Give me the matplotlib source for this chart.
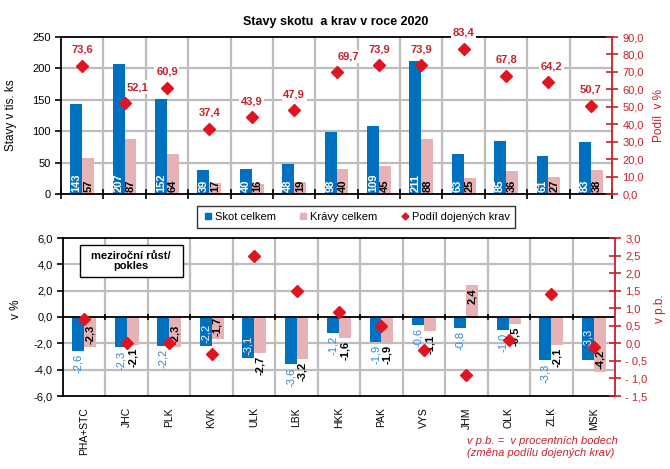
import numpy as np
import matplotlib
matplotlib.use("Agg")
import matplotlib.pyplot as plt
from matplotlib.lines import Line2D
from matplotlib.patches import Rectangle

plt.rcParams['font.family'] = ['Liberation Sans', 'DejaVu Sans']

# data
regions = ['PHA+STC', 'JHC', 'PLK', 'KVK', 'ULK', 'LBK', 'HKK', 'PAK', 'VYS', 'JHM', 'OLK', 'ZLK', 'MSK']
skot = [143, 207, 152, 39, 40, 48, 98, 109, 211, 63, 85, 61, 83]
kravy = [57, 87, 64, 17, 16, 19, 40, 45, 88, 25, 36, 27, 38]
podil = [73.6, 52.1, 60.9, 37.4, 43.9, 47.9, 69.7, 73.9, 73.9, 83.4, 67.8, 64.2, 50.7]

skot_zmena = [-2.6, -2.3, -2.2, -2.2, -3.1, -3.6, -1.2, -1.9, -0.6, -0.8, -1.0, -3.3, -3.3]
kravy_zmena = [-2.3, -2.1, -2.3, -1.7, -2.7, -3.2, -1.6, -1.9, -1.1, 2.4, -0.5, -2.1, -4.2]
podil_zmena = [0.7, 0.0, 0.0, -0.3, 2.5, 1.5, 0.9, 0.5, -0.2, -0.9, 0.1, 1.4, -0.1]

# label placement (in = inside bar end, out = beyond bar end)
skot_pos = ['out', 'out', 'out', 'in', 'in', 'out', 'out', 'out', 'out', 'out', 'out', 'out', 'mid']
kravy_pos = ['in', 'out', 'in', 'in', 'out', 'out', 'out', 'out', 'out', 'in', 'out', 'out', 'in']
podil_dx = [0, 13, 0, 0, 0, 0, 12, 0, 0, 0, 0, 3, 0]

BLUE = '#0070c0'
PINK = '#e6b2b6'
RED = '#e0141e'
DRED = '#c8202a'
GRID = '#bdbdbd'


def cz(v, dec=1):
    return f"{v:.{dec}f}".replace('.', ',')


x = np.arange(len(regions))
w = 0.28
n = len(regions)

fig = plt.figure(figsize=(6.7, 4.69), dpi=100)

# ---------------- top chart
ax1 = fig.add_axes([61/670, 1-194/469, (612-61)/670, (194-37)/469])
ax2 = ax1.twinx()

ax1.bar(x - w/2, skot, w, color=BLUE, zorder=2)
ax1.bar(x + w/2, kravy, w, color=PINK, zorder=2)
for xi, v in zip(x, skot):
    ax1.annotate(str(v), (xi - w/2, 0), xytext=(0, 2), textcoords='offset pixels',
                 rotation=90, ha='center', va='bottom', color='white',
                 fontsize=8, fontweight='bold', zorder=3)
for xi, v in zip(x, kravy):
    ax1.annotate(str(v), (xi + w/2, 0), xytext=(0, 2), textcoords='offset pixels',
                 rotation=90, ha='center', va='bottom', color='black',
                 fontsize=8, fontweight='bold', zorder=3)

ax1.set_xlim(-0.5, n - 0.5)
ax1.set_ylim(0, 250)
ax1.set_yticks(np.arange(0, 251, 50))
ax1.set_yticklabels([str(t) for t in range(0, 251, 50)], fontsize=8)
ax1.set_xticks(np.arange(-0.5, n), minor=True)
ax1.set_xticks([])
ax1.tick_params(axis='x', which='minor', direction='inout', length=7, width=1.2)
ax1.tick_params(axis='y', direction='out', length=4, width=1.2)
for s in ['left', 'bottom', 'top']:
    ax1.spines[s].set_linewidth(1.3)
ax1.spines['right'].set_visible(False)
ax1.set_ylabel('Stavy v tis. ks', fontsize=8.5)
ax1.yaxis.set_label_coords(-0.08, 0.5)

for yy in range(50, 250, 50):
    ax1.axhline(yy, color=GRID, lw=1.6, zorder=1)
for xb in np.arange(0.5, n - 0.5):
    ax1.axvline(xb, color=GRID, lw=1.6, zorder=1)

ax2.plot(x, podil, 'D', color=RED, ms=6.5, zorder=4)
for xi, v, dx in zip(x, podil, podil_dx):
    ax2.annotate(cz(v), (xi, v), xytext=(dx, 16), textcoords='offset pixels',
                 ha='center', va='center', color=DRED, fontsize=8,
                 fontweight='bold', annotation_clip=False,
                 bbox=dict(boxstyle='square,pad=0.15', fc='white', ec='none'))
ax2.set_ylim(0, 90)
ax2.set_yticks(np.arange(0, 91, 10))
ax2.set_yticklabels([cz(t) for t in range(0, 91, 10)], fontsize=8, color=DRED)
ax2.tick_params(axis='y', direction='inout', length=8, width=1.2, color=DRED)
ax2.spines['right'].set_color(DRED)
ax2.spines['right'].set_linewidth(1.3)
for s in ['left', 'bottom', 'top']:
    ax2.spines[s].set_visible(False)
ax2.set_ylabel('Podíl  v %', fontsize=8.5, color=DRED, rotation=90)
ax2.yaxis.set_label_coords(1.075, 0.5)

fig.text(336/670, 1-22/469, 'Stavy skotu  a krav v roce 2020', ha='center',
         va='center', fontsize=9, fontweight='bold')

# legend
handles = [Line2D([], [], ls='none', marker='s', color=BLUE, ms=5),
           Line2D([], [], ls='none', marker='s', color=PINK, ms=5),
           Line2D([], [], ls='none', marker='D', color=RED, ms=3.5)]
fig.legend(handles, ['Skot celkem', 'Krávy celkem', 'Podíl dojených krav'],
           loc='center', bbox_to_anchor=(356/670, 1-217/469), ncol=3,
           fontsize=8, frameon=True, fancybox=False, edgecolor='black',
           handletextpad=0.1, columnspacing=2.0, handlelength=1.0,
           borderpad=0.5)

# ---------------- bottom chart
ax3 = fig.add_axes([63/670, 1-396/469, (615-63)/670, (396-238)/469])
ax4 = ax3.twinx()

ax3.bar(x - w/2, skot_zmena, w, color=BLUE, zorder=2)
ax3.bar(x + w/2, kravy_zmena, w, color=PINK, zorder=2)
ax3.axhline(0, color='black', lw=1.3, zorder=3)
ax3.vlines(np.arange(0.5, n - 0.5), -0.25, 0.25, color='black', lw=1.2, zorder=3)


def bar_label(ax, xi, v, pos, color, weight):
    sgn = 1 if v >= 0 else -1
    y = v
    if pos == 'out':
        off, va = 3 * sgn, ('bottom' if sgn > 0 else 'top')
    elif pos == 'mid':
        y = v / 2
        off, va = 0, 'center'
    else:
        off, va = -3 * sgn, ('top' if sgn > 0 else 'bottom')
    ax.annotate(cz(v), (xi, y), xytext=(0, off),
                textcoords='offset pixels', rotation=90, ha='center', va=va,
                color=color, fontsize=8, fontweight=weight, zorder=5)


for xi, v, p in zip(x, skot_zmena, skot_pos):
    bar_label(ax3, xi - w/2, v, p, '#2f86d8' if p == 'out' else 'white', 'normal')
for xi, v, p in zip(x, kravy_zmena, kravy_pos):
    bar_label(ax3, xi + w/2, v, p, 'black', 'bold')

ax3.set_xlim(-0.5, n - 0.5)
ax3.set_ylim(-6, 6)
ax3.set_yticks(np.arange(-6, 7, 2))
ax3.set_yticklabels([cz(t) for t in range(-6, 7, 2)], fontsize=8)
ax3.set_xticks(x)
ax3.set_xticklabels(regions, rotation=90, fontsize=7.5)
ax3.tick_params(axis='x', length=0, pad=8)
ax3.tick_params(axis='y', direction='out', length=4, width=1.2)
for s in ['left', 'bottom', 'top']:
    ax3.spines[s].set_linewidth(1.3)
ax3.spines['right'].set_visible(False)
ax3.set_ylabel('v %', fontsize=8.5)
ax3.yaxis.set_label_coords(-0.075, 0.55)

for yy in [-4, -2, 2, 4]:
    ax3.axhline(yy, color=GRID, lw=1.6, zorder=1)
for xb in np.arange(0.5, n - 0.5):
    ax3.axvline(xb, color=GRID, lw=1.6, zorder=1)

ax4.plot(x, podil_zmena, 'D', color=RED, ms=6.5, zorder=6)
ax4.set_ylim(-1.5, 3.0)
rt = np.arange(-1.5, 3.01, 0.5)
ax4.set_yticks(rt)
ax4.set_yticklabels([cz(t) if t >= 0 else '- ' + cz(-t) for t in rt], fontsize=8, color=DRED)
ax4.tick_params(axis='y', direction='inout', length=8, width=1.2, color=DRED)
ax4.spines['right'].set_color(DRED)
ax4.spines['right'].set_linewidth(1.3)
for s in ['left', 'bottom', 'top']:
    ax4.spines[s].set_visible(False)
ax4.set_ylabel('v p.b.', fontsize=8.5, color=DRED)
ax4.yaxis.set_label_coords(1.07, 0.55)

# note box
fig.patches.append(Rectangle((80/670, 1-277/469), 103/670, 32/469,
                             transform=fig.transFigure, fc='white', ec='black',
                             lw=1.0, zorder=10))
fig.text(131/670, 1-261/469, 'meziroční růst/\npokles', ha='center', va='center',
         fontsize=8, fontweight='bold', linespacing=1.1, zorder=11)

fig.text(467/670, 1-447/469, 'v p.b. =  v procentních bodech\n(změna podílu dojených krav)',
         ha='left', va='center', fontsize=8, style='italic', color=DRED,
         linespacing=1.15)

fig.savefig('out.png', dpi=100)
